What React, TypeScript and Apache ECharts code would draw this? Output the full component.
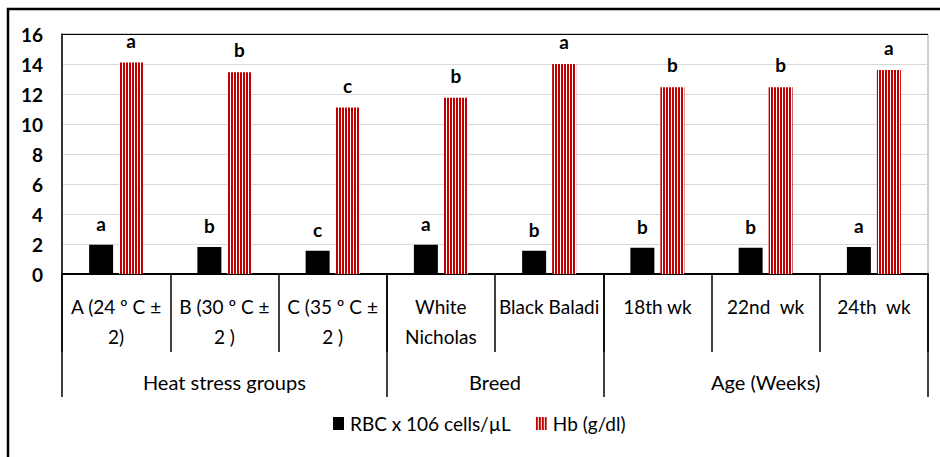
import React, { useEffect, useRef } from "react";
import * as echarts from "echarts";

const categories = [
  "A (24 º C ±\n2)",
  "B (30 º C ±\n2 )",
  "C (35 º C ±\n2 )",
  "White\nNicholas",
  "Black Baladi",
  "18th wk",
  "22nd  wk",
  "24th  wk",
];
const groupLabels = ["Heat stress groups", "Breed", "Age (Weeks)"];
const groupSizes = [3, 2, 3];
const rbcValues = [1.95, 1.8, 1.55, 1.95, 1.55, 1.75, 1.75, 1.8];
const hbValues = [14.1, 13.45, 11.1, 11.75, 14.0, 12.45, 12.45, 13.6];
const rbcLetters = ["a", "b", "c", "a", "b", "b", "b", "a"];
const hbLetters = ["a", "b", "c", "b", "a", "b", "b", "a"];
const yTicks = { min: 0, max: 16, interval: 2 };
const seriesNames = ["RBC x 106 cells/µL", "Hb (g/dl)"];

const FONT = "Lato, 'Open Sans', sans-serif";

export default function App() {
  const ref = useRef<HTMLDivElement>(null);
  useEffect(() => {
    if (!ref.current) return;
    const chart = echarts.init(ref.current, null, { renderer: "svg" });

    // stripe pattern for Hb
    const cv = document.createElement("canvas");
    cv.width = 3;
    cv.height = 4;
    const ctx = cv.getContext("2d")!;
    ctx.fillStyle = "#ffffff";
    ctx.fillRect(0, 0, 3, 4);
    ctx.fillStyle = "#c00000";
    ctx.fillRect(0, 0, 2, 4);

    // group axis: half-slot positions (boundaryGap false)
    const slots = groupSizes.reduce((a, b) => a + b, 0) * 2 + 1;
    const groupAxisData: string[] = new Array(slots).fill("");
    const boundaries: number[] = [0];
    let acc = 0;
    groupSizes.forEach((s, i) => {
      const start = acc;
      acc += s * 2;
      boundaries.push(acc);
      groupAxisData[(start + acc) / 2] = groupLabels[i];
    });

    const gridColors = [] as string[];
    for (let v = yTicks.min; v <= yTicks.max; v += yTicks.interval) {
      gridColors.push(v === yTicks.max ? "#000000" : "#d9d9d9");
    }

    chart.setOption({
      animation: false,
      textStyle: { fontFamily: FONT },
      grid: {
        left: 62,
        right: 12,
        top: 34,
        bottom: 183,
        show: true,
        borderColor: "#a0a0a0",
        borderWidth: 1,
      },
      legend: {
        data: seriesNames,
        left: 333,
        top: 414,
        padding: 0,
        itemWidth: 11,
        itemHeight: 13,
        itemGap: 25,
        icon: "rect",
        textStyle: { fontSize: 19, color: "#000", fontFamily: FONT, padding: [0, 0, 0, 1] },
      },
      graphic: [
        {
          type: "polyline",
          shape: { points: [[8, 457], [8, 9], [940, 9]] },
          style: { stroke: "#000", lineWidth: 2.5, fill: "none" },
          silent: true,
        },
      ],
      xAxis: [
        {
          type: "category",
          data: categories,
          position: "bottom",
          axisLine: { lineStyle: { color: "#000", width: 2 } },
          axisTick: { show: true, interval: 0, length: 78, lineStyle: { color: "#000", width: 1.5 } },
          axisLabel: {
            interval: 0,
            margin: 17,
            fontSize: 19,
            lineHeight: 30,
            color: "#000",
            fontFamily: FONT,
            verticalAlign: "top",
          },
        },
        {
          type: "category",
          data: groupAxisData,
          boundaryGap: false,
          position: "bottom",
          axisLine: { show: false },
          axisTick: {
            show: true,
            length: 123,
            interval: (idx: number) => boundaries.indexOf(idx) >= 0,
            lineStyle: { color: "#000", width: 1.5 },
          },
          axisLabel: {
            interval: 0,
            margin: 93,
            fontSize: 20,
            lineHeight: 30,
            color: "#000",
            fontFamily: FONT,
            verticalAlign: "top",
          },
        },
      ],
      yAxis: {
        type: "value",
        min: yTicks.min,
        max: yTicks.max,
        interval: yTicks.interval,
        axisLine: { show: true, lineStyle: { color: "#000", width: 1.5 } },
        axisTick: { show: false },
        splitLine: { lineStyle: { color: gridColors, width: 1 } },
        axisLabel: {
          margin: 19,
          fontSize: 19,
          fontWeight: "bold",
          color: "#000",
          fontFamily: FONT,
        },
      },
      series: [
        {
          name: seriesNames[0],
          type: "bar",
          data: rbcValues,
          barWidth: 24,
          barGap: "25%",
          itemStyle: { color: "#000000" },
          label: {
            show: true,
            position: "top",
            distance: 12,
            fontSize: 19,
            fontWeight: "bold",
            color: "#000",
            fontFamily: FONT,
            formatter: (p: any) => rbcLetters[p.dataIndex],
          },
        },
        {
          name: seriesNames[1],
          type: "bar",
          data: hbValues,
          barWidth: 24,
          barGap: "25%",
          itemStyle: { color: { image: cv, repeat: "repeat" } },
          label: {
            show: true,
            position: "top",
            distance: 13,
            fontSize: 19,
            fontWeight: "bold",
            color: "#000",
            fontFamily: FONT,
            formatter: (p: any) => hbLetters[p.dataIndex],
          },
        },
      ],
    });
    return () => chart.dispose();
  }, []);
  return (
    <div
      ref={ref}
      style={{ position: "fixed", left: 0, top: 0, width: 940, height: 457, background: "#fff" }}
    />
  );
}
